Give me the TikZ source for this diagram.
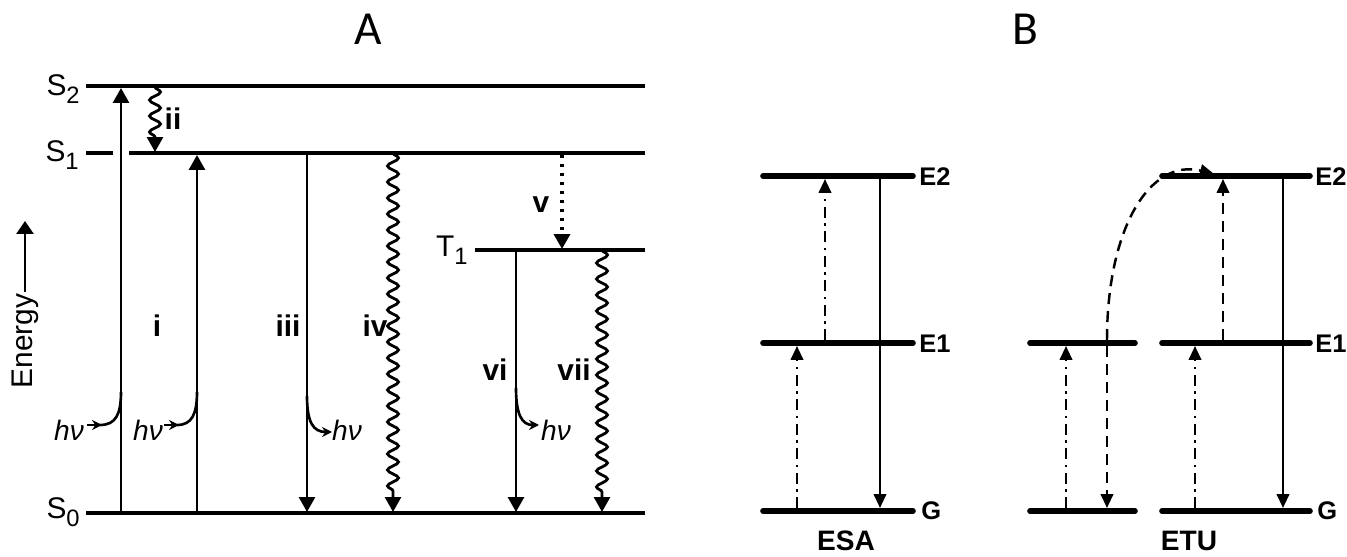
\documentclass[tikz,border=0pt]{standalone}
\usepackage{fontspec}
\setmainfont{Liberation Sans}
\newfontfamily\captionfont{Carlito}
\usetikzlibrary{positioning, arrows.meta, decorations.pathmorphing}

\newcommand{\lowsub}[1]{\raisebox{-4.5pt}{\fontsize{13.5}{14}\selectfont #1}}

\tikzset{
  lev/.style={line width=2pt},
  levB/.style={line width=3.2pt, line cap=round},
  tr/.style={line width=1.6pt, -{Triangle[length=3mm, width=3.2mm]}},
  trB/.style={line width=1.4pt, -{Triangle[length=2.8mm, width=2.5mm]}},
  wavy/.style={tr, decorate, decoration={snake, amplitude=1.1mm, segment length=3.2mm, post length=3mm}},
  curl/.style={line width=1.5pt},
  curltip/.style={line width=1.5pt, -{Stealth[length=2mm, width=2mm]}},
  dotline/.style={line width=2pt, dash pattern=on 0.6mm off 1.2mm},
  dashdot/.style={dash pattern=on 2.2mm off 1.1mm on 0.5mm off 1.1mm},
  dashB/.style={dash pattern=on 2.2mm off 1.4mm},
  numlabel/.style={font=\bfseries\fontsize{17}{20}\selectfont, inner sep=0pt},
  hvlabel/.style={font=\itshape\fontsize{16}{19}\selectfont, inner sep=0pt, anchor=base},
  statelabel/.style={font=\fontsize{17}{20}\selectfont, inner sep=0pt, anchor=base east},
  Blabel/.style={font=\bfseries\fontsize{14.5}{17}\selectfont, inner sep=0pt, anchor=west},
  schemelabel/.style={font=\bfseries\fontsize{16}{19}\selectfont, inner sep=0pt},
  panel/.style={font=\captionfont\fontsize{27}{30}\selectfont, inner sep=0pt}
}

\begin{document}
\begin{tikzpicture}[x=0.02cm, y=-0.02cm]
\useasboundingbox (0,0) rectangle (1347,557);

% Panel titles
\node[panel] (titleA) at (368,29) {A};
\node[panel] (titleB) at (1025,29) {B};

% ---------------- A: Jablonski diagram ----------------
% Energy axis
\node[font=\fontsize{17}{20}\selectfont, rotate=90, inner sep=1pt] (energy) at (25,341) {Energy};
\draw[line width=1.5pt, -{Triangle[length=2.6mm, width=3.4mm]}] (energy.east) -- (energy.east |- 0,221);

% States
\draw[lev] (86,86) -- (645,86);
\draw[lev] (86,153) -- (113,153) (129,153) -- (645,153);
\draw[lev] (475,250) -- (645,250);
\draw[lev] (86,513) -- (645,513);
\node[statelabel] (s2) at (80,96) {S\lowsub{2}};
\node[statelabel] (s1) at (79,162) {S\lowsub{1}};
\node[statelabel] (t1) at (468,257) {T\lowsub{1}};
\node[statelabel] (s0) at (80,519) {S\lowsub{0}};

% Absorption
\draw[tr] (121,513) -- (121,88);
\draw[tr] (197,513) -- (197,155);
\draw[curl] (121,392) .. controls (121,414) and (116,425) .. (100,425);
\draw[curltip] (87,425) -- (102,425);
\draw[curl] (197,392) .. controls (197,414) and (192,425) .. (177,425);
\draw[curltip] (164,425) -- (179,425);
\node[hvlabel] (hv1) at (69,440) {hν};
\node[hvlabel] (hv2) at (148,440) {hν};
\node[numlabel] (i) at (157,326) {i};

% Internal conversion S2 -> S1
\draw[wavy] (155,87) -- (155,152);
\node[numlabel] (ii) at (173,119) {ii};

% Fluorescence
\draw[tr] (307,153) -- (307,512);
\draw[curltip] (307,396) .. controls (307,422) and (313,432) .. (332,432);
\node[hvlabel] (hv3) at (347,440) {hν};
\node[numlabel] (iii) at (288,326) {iii};

% Internal conversion S1 -> S0
\draw[wavy] (393,153) -- (393,512);
\node[numlabel] (iv) at (375,326) {iv};

% Intersystem crossing
\draw[tr, dotline] (562,155) -- (562,249);
\node[numlabel] (v) at (541,205) {v};

% Phosphorescence
\draw[tr] (516,250) -- (516,512);
\draw[curltip] (516,388) .. controls (516,415) and (522,425) .. (539,425);
\node[hvlabel] (hv4) at (556,440) {hν};
\node[numlabel] (vi) at (495,370) {vi};

% Non-radiative T1 -> S0
\draw[wavy] (602,250) -- (602,512);
\node[numlabel] (vii) at (574,370) {vii};

% ---------------- B: ESA ----------------
\draw[levB] (763,176) -- (913,176);
\draw[levB] (763,343) -- (913,343);
\draw[levB] (763,511) -- (913,511);
\node[Blabel] (esaE2) at (919,177) {E2};
\node[Blabel] (esaE1) at (919,344) {E1};
\node[Blabel] (esaG) at (921,511) {G};
\draw[trB, dashdot] (797,508) -- (797,346);
\draw[trB, dashdot] (825,340) -- (825,179);
\draw[trB] (880,179) -- (880,508);
\node[schemelabel] (esa) at (846,541) {ESA};

% ---------------- B: ETU ----------------
\draw[levB] (1030,343) -- (1135,343);
\draw[levB] (1030,511) -- (1135,511);
\draw[levB] (1162,176) -- (1310,176);
\draw[levB] (1162,343) -- (1310,343);
\draw[levB] (1162,511) -- (1310,511);
\node[Blabel] (etuE2) at (1315,177) {E2};
\node[Blabel] (etuE1) at (1315,344) {E1};
\node[Blabel] (etuG) at (1317,511) {G};
\draw[trB, dashdot] (1066,508) -- (1066,346);
\draw[trB, dashB] (1107,346) -- (1107,508);
\draw[trB, dashB] (1107,340) .. controls (1107,228) and (1150,158) .. (1214,174);
\draw[trB, dashdot] (1195,508) -- (1195,346);
\draw[trB, dashB] (1223,340) -- (1223,179);
\draw[trB] (1283,179) -- (1283,508);
\node[schemelabel] (etu) at (1189,541) {ETU};
\end{tikzpicture}
\end{document}
